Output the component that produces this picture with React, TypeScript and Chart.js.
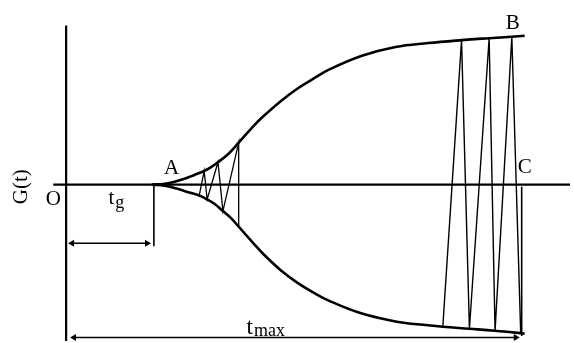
import React, { useEffect, useRef } from "react";
import { Chart, registerables } from "chart.js";

Chart.register(...registerables);

// Envelope curves (t, G)
const upperT = [87, 100, 110, 120, 130, 140, 147, 154, 165, 175, 190, 200, 217, 234, 250, 267, 300, 334, 367, 401, 429, 452, 465];
const upperG = [0, 1, 3, 6, 10, 14, 18, 23, 32, 43, 60, 70, 85, 98, 108, 118, 132, 141, 145, 148, 150, 151.5, 152.5];
const lowerT = [87, 100, 112, 125, 135, 143, 151, 159, 167, 175, 190, 200, 217, 234, 250, 267, 300, 334, 367, 382, 409, 435, 461, 465];
const lowerG = [0, -1, -4, -8, -11, -15, -20, -27, -34, -43, -60, -71, -87, -100, -110, -119, -132, -140, -144, -145.5, -147.5, -149.5, -152, -152.5];

// Zig-zag near A
const zigAT = [135, 140, 143, 154, 159, 175, 175];
const zigAG = [-11, 14, -15, 23, -27, 43, -43];

// Zig-zag near B / C
const zigBT = [382, 401, 409, 429, 435, 452, 461];
const zigBG = [-145.5, 148, -147.5, 150, -149.5, 151.5, -152];

// Line at C
const cLineT = [462, 462];
const cLineG = [-2, -155];

// Axes
const vAxisT = [0, 0];
const vAxisG = [163, -160];
const hAxisT = [-13, 511];
const hAxisG = [0, 0];

// t_g marker and arrow
const tgTickT = [89, 89];
const tgTickG = [0, -63];
const tgArrowT = [6, 82];
const tgArrowG = [-60, -60];

// t_max arrow
const tmaxArrowT = [8, 456];
const tmaxArrowG = [-156.5, -156.5];

const xMin = -63, xMax = 511, yMin = -158, yMax = 185;

const pts = (t: number[], g: number[]) => t.map((v, i) => ({ x: v, y: g[i] }));

const plainLabels = [
  { text: "A", t: 107, g: 17 },
  { text: "B", t: 453, g: 165 },
  { text: "C", t: 465, g: 18 },
  { text: "O", t: -13, g: -15 },
];

const FONT = '"Liberation Serif", "Times New Roman", serif';

const textPlugin = {
  id: "texts",
  afterDatasetsDraw(chart: any) {
    const { ctx, scales } = chart;
    const X = (v: number) => scales.x.getPixelForValue(v);
    const Y = (v: number) => scales.y.getPixelForValue(v);
    ctx.save();
    ctx.fillStyle = "#000";
    ctx.textAlign = "center";
    ctx.textBaseline = "middle";
    ctx.font = `21px ${FONT}`;
    for (const l of plainLabels) ctx.fillText(l.text, X(l.t), Y(l.g));

    // G(t) rotated
    ctx.save();
    ctx.translate(X(-45), Y(-2));
    ctx.rotate(-Math.PI / 2);
    ctx.fillText("G(t)", 0, 0);
    ctx.restore();

    // t_g
    ctx.textAlign = "left";
    ctx.textBaseline = "alphabetic";
    let px = X(43), py = Y(-20);
    ctx.font = `21px ${FONT}`;
    ctx.fillText("t", px, py);
    let w = ctx.measureText("t").width;
    ctx.font = `18px ${FONT}`;
    ctx.fillText("g", px + w + 1, py + 4);

    // t_max
    px = X(183); py = Y(-153);
    ctx.font = `23px ${FONT}`;
    ctx.fillText("t", px, py);
    w = ctx.measureText("t").width;
    ctx.font = `18px ${FONT}`;
    ctx.fillText("max", px + w + 1, py + 1.5);
    ctx.restore();
  },
};

export default function App() {
  const ref = useRef<HTMLCanvasElement | null>(null);
  useEffect(() => {
    if (!ref.current) return;
    const line = (data: any[], width: number, extra: any = {}) => ({
      data,
      showLine: true,
      borderColor: "#000",
      backgroundColor: "#000",
      borderWidth: width,
      pointRadius: 0,
      fill: false,
      clip: false,
      tension: 0,
      borderJoinStyle: "miter",
      borderCapStyle: "butt",
      ...extra,
    });
    const arrow = (data: any[]) =>
      line(data, 1.5, {
        pointRadius: 4,
        pointStyle: "triangle",
        pointRotation: [270, 90],
        pointBackgroundColor: "#000",
        pointBorderColor: "#000",
        pointBorderWidth: 0,
      });
    const chart = new Chart(ref.current, {
      type: "scatter",
      data: {
        datasets: [
          line(pts(vAxisT, vAxisG), 2.2),
          line(pts(hAxisT, hAxisG), 2.2),
          line(pts(upperT, upperG), 2.6, { tension: 0.4, borderJoinStyle: "round" }),
          line(pts(lowerT, lowerG), 2.6, { tension: 0.4, borderJoinStyle: "round" }),
          line(pts(zigAT, zigAG), 1.3),
          line(pts(zigBT, zigBG), 1.4),
          line(pts(cLineT, cLineG), 1.6),
          line(pts(tgTickT, tgTickG), 1.6),
          arrow(pts(tgArrowT, tgArrowG)),
          arrow(pts(tmaxArrowT, tmaxArrowG)),
        ] as any,
      },
      options: {
        animation: false,
        responsive: false,
        events: [],
        layout: { padding: 0 },
        plugins: { legend: { display: false }, tooltip: { enabled: false } },
        scales: {
          x: { type: "linear", min: xMin, max: xMax, display: false },
          y: { type: "linear", min: yMin, max: yMax, display: false },
        },
      } as any,
      plugins: [textPlugin],
    });
    return () => chart.destroy();
  }, []);
  return (
    <canvas
      ref={ref}
      width={574}
      height={343}
      style={{ position: "fixed", left: 0, top: 0, width: 574, height: 343, background: "#fff" }}
    />
  );
}
